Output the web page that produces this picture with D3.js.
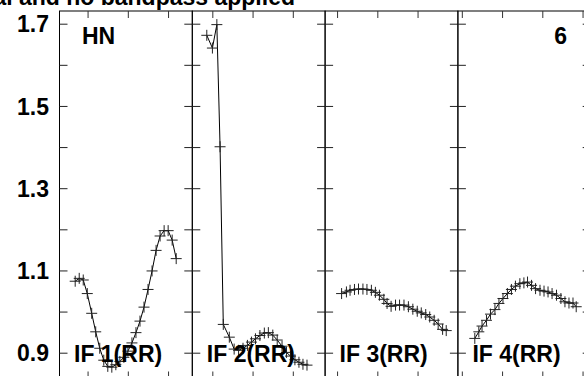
<!DOCTYPE html>
<html>
<head>
<meta charset="utf-8">
<script src="https://cdn.jsdelivr.net/npm/d3@7"></script>
<style>
html,body{margin:0;padding:0;background:#fff;}
svg{display:block;}
text{font-family:"Liberation Sans",Arial,sans-serif;font-weight:bold;fill:#000;}
</style>
</head>
<body>
<svg id="chart" width="584" height="376"></svg>
<script>
// ---- data ----
const titleText = "Plot file version 1 created: no cal and no bandpass applied";
const sourceLabel = "HN";
const pageLabel = "6";
const panelNames = ["IF 1(RR)", "IF 2(RR)", "IF 3(RR)", "IF 4(RR)"];
const panelStart = [0.29, 3.49, 6.69, 9.89];   // time at left edge of each panel
const panelSpan = 3.3;
const yMajorTicks = [0.9, 1.1, 1.3, 1.5, 1.7];
const yMinorTicks = [1.0, 1.2, 1.4, 1.6];
const yTickLabels = ["0.9", "1.1", "1.3", "1.5", "1.7"];

const t1 = [0.68,0.78,0.88,0.98,1.09,1.19,1.29,1.39,1.49,1.59,1.69,1.79,1.89,1.99,2.09,2.19,2.29,2.39,2.49,2.59,2.69,2.79,2.89,2.99,3.09,3.19];
const v1 = [1.075,1.082,1.078,1.045,0.997,0.952,0.912,0.883,0.868,0.866,0.872,0.880,0.890,0.905,0.925,0.950,0.978,1.012,1.055,1.100,1.150,1.185,1.198,1.198,1.175,1.130];

const t2 = [3.85,3.99,4.10,4.18,4.26,4.41,4.53,4.64,4.75,4.86,4.96,5.06,5.17,5.28,5.38,5.49,5.60,5.72,5.83,5.93,6.04,6.14,6.24,6.34];
const v2 = [1.673,1.642,1.699,1.402,0.970,0.939,0.910,0.907,0.912,0.919,0.927,0.935,0.943,0.949,0.950,0.944,0.932,0.917,0.902,0.893,0.884,0.878,0.873,0.871];

const t3 = [7.10,7.22,7.31,7.42,7.52,7.63,7.73,7.84,7.94,8.04,8.15,8.23,8.33,8.44,8.54,8.65,8.76,8.87,8.98,9.08,9.19,9.29,9.40,9.50,9.61,9.70];
const v3 = [1.045,1.049,1.053,1.055,1.056,1.056,1.055,1.053,1.048,1.041,1.031,1.021,1.014,1.017,1.017,1.017,1.013,1.007,1.002,0.998,0.994,0.988,0.980,0.971,0.958,0.955];

const t4 = [10.31,10.41,10.49,10.60,10.70,10.81,10.91,11.01,11.12,11.22,11.32,11.43,11.53,11.62,11.72,11.82,11.93,12.03,12.13,12.23,12.34,12.45,12.55,12.65,12.75,12.83];
const v4 = [0.936,0.952,0.966,0.980,0.995,1.006,1.021,1.033,1.045,1.055,1.063,1.069,1.071,1.073,1.065,1.057,1.053,1.051,1.049,1.045,1.041,1.033,1.025,1.022,1.022,1.013];

const seriesT = [t1, t2, t3, t4];
const seriesV = [v1, v2, v3, v4];

// ---- layout ----
const svg = d3.select("#chart");
svg.append("rect").attr("width",584).attr("height",376).attr("fill","#fff");

const plotTop = 11, plotBottom = 378.5;
const plotLeft = 59.5, panelW = 132.8;
const y = d3.scaleLinear().domain([0.9, 1.7]).range([353.2, 24.2]);
const tickLen = 8, xTickLen = 7;
const fs = 23;

for (let k = 0; k < 4; k++) {
  const x0 = plotLeft + k * panelW;
  const x = d3.scaleLinear().domain([panelStart[k], panelStart[k] + panelSpan]).range([x0, x0 + panelW]);
  const g = svg.append("g");

  // frame
  g.append("rect").attr("x", x0).attr("y", plotTop).attr("width", panelW).attr("height", plotBottom - plotTop)
    .attr("fill","none").attr("stroke","#000").attr("stroke-width",1);

  // y ticks inside left & right
  const yt = yMajorTicks.concat(yMinorTicks);
  yt.forEach(v => {
    g.append("line").attr("x1", x0).attr("x2", x0 + tickLen).attr("y1", y(v)).attr("y2", y(v))
      .attr("stroke","#222").attr("stroke-width",1);
    g.append("line").attr("x1", x0 + panelW - tickLen).attr("x2", x0 + panelW).attr("y1", y(v)).attr("y2", y(v))
      .attr("stroke","#222").attr("stroke-width",1);
  });

  // x ticks top & bottom (inside)
  const xt = d3.range(Math.ceil(panelStart[k]), panelStart[k] + panelSpan + 1e-9, 1);
  xt.forEach(t => {
    g.append("line").attr("x1", x(t)).attr("x2", x(t)).attr("y1", plotTop).attr("y2", plotTop + xTickLen)
      .attr("stroke","#333").attr("stroke-width",1);
    g.append("line").attr("x1", x(t)).attr("x2", x(t)).attr("y1", plotBottom - xTickLen).attr("y2", plotBottom)
      .attr("stroke","#333").attr("stroke-width",1);
  });

  // data line
  const pts = seriesT[k].map((t, i) => [x(t), y(seriesV[k][i])]);
  g.append("path").attr("d", d3.line()(pts)).attr("fill","none").attr("stroke","#000").attr("stroke-width",1);

  // plus markers
  const ms = 5.5;
  g.selectAll("path.m").data(pts).enter().append("path")
    .attr("d", p => `M${p[0]-ms},${p[1]}H${p[0]+ms}M${p[0]},${p[1]-ms}V${p[1]+ms}`)
    .attr("stroke","#222").attr("stroke-width",1).attr("fill","none");

  // panel label
  g.append("text").attr("x", x0 + 14.5).attr("y", 362).attr("font-size", fs).text(panelNames[k]);
}

// y tick labels
yMajorTicks.forEach((v, i) => {
  svg.append("text").attr("x", 49).attr("y", y(v)).attr("dy","0.36em").attr("text-anchor","end")
    .attr("font-size", fs).text(yTickLabels[i]);
});

// source label and page number
svg.append("text").attr("x", plotLeft + 22.5).attr("y", 44).attr("font-size", fs).text(sourceLabel);
svg.append("text").attr("x", 567).attr("y", 44).attr("text-anchor","end").attr("font-size", fs).text(pageLabel);

// title (cut off at top, as in the reference)
svg.append("text").attr("x", 295).attr("y", 5).attr("text-anchor","end").attr("font-size", fs).text(titleText);
</script>
</body>
</html>
